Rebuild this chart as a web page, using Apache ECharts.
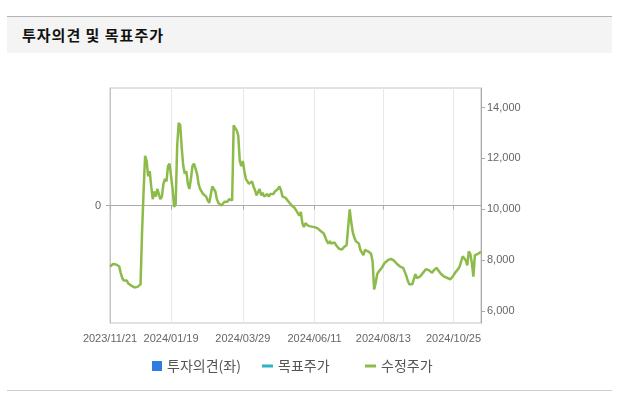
<!DOCTYPE html>
<html><head><meta charset="utf-8">
<script src="https://cdn.jsdelivr.net/npm/echarts@6/dist/echarts.min.js"></script>
<style>
html,body{margin:0;padding:0;background:#fff;}
#wrap{position:relative;width:619px;height:410px;overflow:hidden;}
#hdr{position:absolute;left:7px;top:16px;width:605px;height:36px;background:#f4f4f4;border-top:1px solid #b4b4b4;}
#hdr span{position:absolute;left:15px;top:8px;font:bold 15px "Noto Sans CJK KR",sans-serif;letter-spacing:1px;color:#111;line-height:19px;}
#bot{position:absolute;left:7px;top:390px;width:605px;height:1px;background:#cfcfcf;}
#chart{position:absolute;left:0;top:0;width:619px;height:410px;}
</style></head>
<body><div id="wrap"><div id="hdr"><span>투자의견 및 목표주가</span></div><div id="bot"></div><div id="chart"></div></div>
<script>
// trading-day calendar
var startDate = '2023-11-21';
var endDate = '2024-11-20';
var holidays = ['2023-12-25','2023-12-29','2024-01-01','2024-02-09','2024-02-12','2024-03-01','2024-04-10','2024-05-01','2024-05-06','2024-05-15','2024-06-06','2024-08-15','2024-09-16','2024-09-17','2024-09-18','2024-10-01','2024-10-03','2024-10-09'];
var tickLabels = ['2023/11/21','2024/01/19','2024/03/29','2024/06/11','2024/08/13','2024/10/25'];
var priceTicks = [6000, 8000, 10000, 12000, 14000];
var opinionTicks = [0];

// 수정주가 (adjusted price), one value per trading day
var adjPrice = [
7750,7780,7850,7800,7830,7800,7760,7500,7300,7200,
7150,7200,7080,7050,7000,6950,6930,6900,6950,6980,
7050,9100,10700,12100,11900,11300,11500,10900,10400,10700,
10500,10800,10600,10400,10500,11000,11200,11100,11700,11800,
11800,10800,10100,10200,12500,13400,13300,12400,11700,11400,
11500,11000,10800,11200,11700,11800,11600,11400,11000,10800,
10700,10600,10600,10500,10350,10250,10300,10900,10950,10700,
10400,10250,10200,10150,10200,10300,10350,10300,10400,10450,
10350,13300,13200,13100,12900,11900,11700,11900,11500,11200,
11100,11000,10950,11100,10900,10750,10550,10600,10800,10550,
10650,10500,10550,10600,10500,10600,10650,10600,10700,10750,
10800,10900,10750,10500,10450,10450,10400,10300,10250,10150,
10200,10050,9950,10000,9750,9900,9450,9300,9450,9400,
9350,9300,9320,9300,9300,9280,9250,9200,9150,9100,
9050,8900,8750,8650,8750,8650,8600,8700,8600,8550,
8450,8400,8420,8500,8550,8600,8650,10000,9500,9100,
8900,8750,8700,8650,8400,8300,8200,8400,8450,8350,
8300,8250,7950,6850,7100,7450,7550,7500,7700,7800,
7900,7950,8000,8050,8050,8050,7980,7950,7850,7800,
7750,7750,7700,7550,7400,7200,7050,7000,7050,7050,
7450,7300,7300,7350,7400,7500,7550,7650,7700,7600,
7650,7500,7600,7650,7700,7600,7550,7450,7400,7350,
7350,7300,7250,7250,7250,7400,7500,7550,7650,7750,
7950,8150,8100,8000,7800,8350,8250,7900,7350,8200,
8150,8250,8300,8330
];
var opinion = [];   // 투자의견(좌) - no data
var target = [];    // 목표주가 - no data

function pad(n){return (n<10?'0':'')+n;}
var dates = [];
(function(){
  var d = new Date(startDate+'T00:00:00Z'), e = new Date(endDate+'T00:00:00Z');
  while (d <= e) {
    var wd = d.getUTCDay();
    var iso = d.getUTCFullYear()+'-'+pad(d.getUTCMonth()+1)+'-'+pad(d.getUTCDate());
    if (wd !== 0 && wd !== 6 && holidays.indexOf(iso) < 0) dates.push(iso.replace(/-/g,'/'));
    d.setUTCDate(d.getUTCDate()+1);
  }
})();
function showTick(i, v){ return tickLabels.indexOf(v) >= 0; }

var font = '"Liberation Sans", Arial, sans-serif';
var kfont = '"Noto Sans CJK KR", sans-serif';
var legText = {fontFamily:kfont, fontSize:14, color:'#555'};
var chart = echarts.init(document.getElementById('chart'), null, {renderer:'canvas'});
chart.setOption({
  animation: false,
  grid: {left:110, right:138, top:88, bottom:87, show:true, borderColor:'#c4c4c4', borderWidth:1, backgroundColor:'#fff'},
  legend: [
    {left:152, top:359, padding:0, data:[{name:'투자의견(좌)', icon:'rect'}], itemWidth:10, itemHeight:10, itemGap:5, textStyle:legText},
    {left:262, top:359, padding:0, data:[{name:'목표주가', icon:'rect'}], itemWidth:11, itemHeight:3, textStyle:legText},
    {left:365, top:359, padding:0, data:[{name:'수정주가', icon:'rect'}], itemWidth:11, itemHeight:3, textStyle:legText}
  ],
  xAxis: {
    type:'category', data:dates, boundaryGap:false,
    axisLine:{lineStyle:{color:'#aaa'}},
    axisTick:{show:true, interval:showTick, length:4, lineStyle:{color:'#aaa'}},
    axisLabel:{interval:showTick, color:'#666', fontFamily:font, fontSize:11, margin:10},
    splitLine:{show:true, interval:showTick, lineStyle:{color:'#e8e8e8'}}
  },
  yAxis: [
    {type:'value', position:'left', min:-1, max:1, interval:1,
     axisLine:{show:true, lineStyle:{color:'#c4c4c4'}},
     axisTick:{show:true, length:4, customValues:opinionTicks, lineStyle:{color:'#aaa'}},
     axisLabel:{color:'#666', fontFamily:font, fontSize:11, margin:9, customValues:opinionTicks, formatter:function(v){return String(v);}},
     splitLine:{show:true, lineStyle:{color:'#e8e8e8'}}},
    {type:'value', position:'right', min:5530, max:14770,
     axisLine:{show:true, lineStyle:{color:'#aaa'}},
     axisTick:{show:true, length:4, customValues:priceTicks, lineStyle:{color:'#aaa'}},
     axisLabel:{color:'#666', fontFamily:font, fontSize:11, margin:6, customValues:priceTicks,
       formatter:function(v){return String(v).replace(/\B(?=(\d{3})+(?!\d))/g, ',');}},
     splitLine:{show:false}}
  ],
  series: [
    {name:'투자의견(좌)', type:'bar', yAxisIndex:0, data:opinion, itemStyle:{color:'#2e7ee0'}},
    {name:'목표주가', type:'line', yAxisIndex:1, data:target, itemStyle:{color:'#2bb3c6'}, lineStyle:{color:'#2bb3c6'}},
    {name:'수정주가', type:'line', yAxisIndex:1, data:adjPrice, showSymbol:false, symbol:'none',
     itemStyle:{color:'#8cbb4a'}, lineStyle:{color:'#8cbb4a', width:2.5}}
  ]
});
</script></body></html>
